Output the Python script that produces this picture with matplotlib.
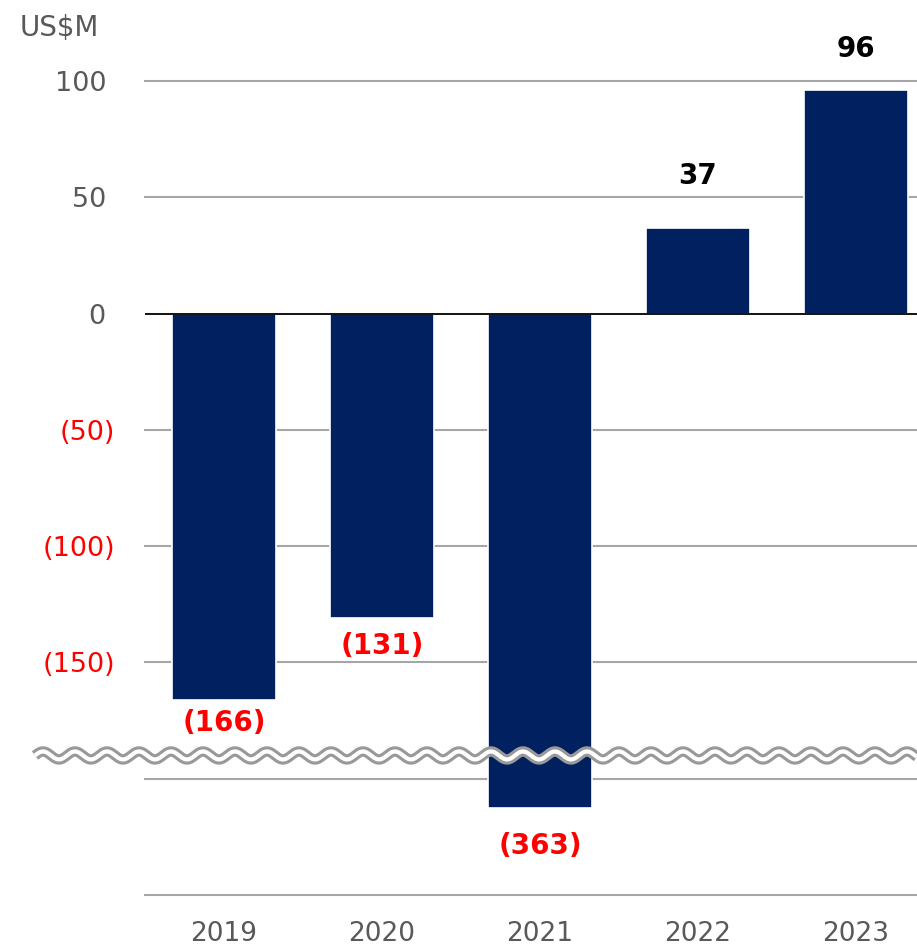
import numpy as np
import matplotlib.pyplot as plt

years = ['2019', '2020', '2021', '2022', '2023']
values = np.array([-166, -131, -363, 37, 96])
label_off = [-17, -20, -28, 37, 30]  # points, from bar end

# broken axis: values below brk are squeezed by k
brk = -190
k = 0.1295

def fwd(y):
    y = np.asarray(y, dtype=float)
    return np.where(y < brk, brk + (y - brk) * k, y)

def inv(v):
    v = np.asarray(v, dtype=float)
    return np.where(v < brk, brk + (v - brk) / k, v)

navy = '#002060'
gray_txt = '#595959'
grid_c = '#a6a6a6'

fig = plt.figure(figsize=(9.17, 9.46), dpi=100)
ax = fig.add_axes([145/917, 51/946, 772/917, 814/946])
ax.set_yscale('function', functions=(fwd, inv))

x = np.arange(len(years))
ax.bar(x, values, width=0.66, color=navy, edgecolor='white', linewidth=1.2, zorder=3)

bottom = float(inv(-250))
ticks = [bottom, float(inv(-200)), -150, -100, -50, 0, 50, 100]
# excel-style format: positives padded by a trailing space where ")" would be
tlabels = ['', '', '(150)', '(100)', '(50)', '0 ', '50 ', '100 ']
ax.set_ylim(bottom, 100)
ax.set_xlim(-0.5, 4.386)
ax.set_yticks(ticks)
ax.set_yticklabels(tlabels, fontsize=19.5)
for t, lab in zip(ax.get_yticklabels(), tlabels):
    t.set_color('red' if lab.startswith('(') else gray_txt)
ax.set_xticks(x)
ax.set_xticklabels(years, fontsize=19, color=gray_txt)
ax.tick_params(axis='y', length=0, pad=21.5)
ax.tick_params(axis='x', length=0, pad=19)
for s in ax.spines.values():
    s.set_visible(False)

for t in ticks:
    if t == 0:
        continue
    ax.axhline(t, color=grid_c, lw=1.5, zorder=1, clip_on=False)
ax.axhline(0, color='black', lw=1.3, zorder=4)

for xi, v, off in zip(x, values, label_off):
    txt = f'({abs(v)})' if v < 0 else f'{v}'
    ax.annotate(txt, (xi, v), xytext=(0, off), textcoords='offset points',
                ha='center', va='center', fontsize=20, fontweight='bold',
                color='red' if v < 0 else 'black', annotation_clip=False, zorder=5)

# wavy break marker
W, H = 917, 946
y0 = ax.transData.transform((0, brk))[1] / H
xs = np.linspace(35, 917, 1200)
ys = y0 + (4 * np.sin(2 * np.pi * (xs - 35) / 32)) / H
ax.plot(xs / W, ys, transform=fig.transFigure, color='#999999', lw=7.5,
        clip_on=False, zorder=6, solid_capstyle='butt')
ax.plot(xs / W, ys, transform=fig.transFigure, color='white', lw=3,
        clip_on=False, zorder=7, solid_capstyle='butt')

fig.text(20/917, 1 - 28/946, 'US$M', fontsize=20, color=gray_txt, ha='left', va='center')

fig.savefig('out.png', dpi=100)
